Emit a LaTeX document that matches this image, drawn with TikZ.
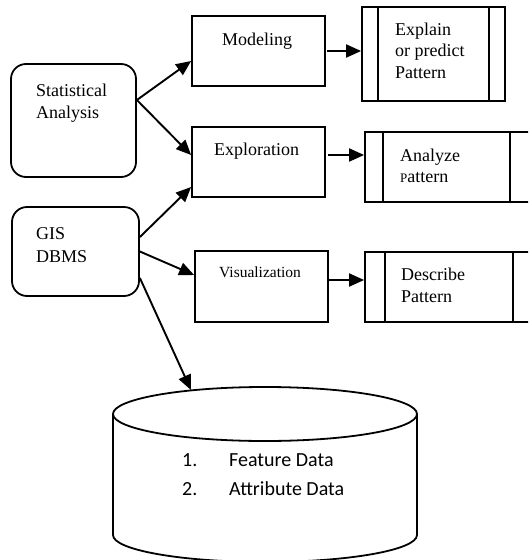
\documentclass[tikz,border=0pt]{standalone}
\usepackage{fontspec}
\setmainfont{Liberation Serif}
\newfontfamily\calib{Carlito}
\usetikzlibrary{arrows.meta,calc}
\begin{document}
\begin{tikzpicture}[x=1pt,y=-1pt,
  rbox/.style={draw, line width=1.8pt, rounded corners=15pt, inner sep=0pt},
  pbox/.style={draw, line width=1.8pt, inner sep=0pt},
  ln/.style={line width=1.8pt},
  arr/.style={line width=1.9pt, -{Triangle[length=15pt,width=13pt]}},
  txt/.style={anchor=base west, inner sep=0pt, align=left, font=\fontsize{18}{21.5}\selectfont},
  dtxt/.style={anchor=base west, inner sep=0pt, font=\calib\fontsize{20}{24}\selectfont}]
\useasboundingbox (0,0) rectangle (528,560);
\clip (0,0) rectangle (528,560);
% left rounded boxes
\node[rbox, minimum width=125pt, minimum height=113pt] (stat) at (73.5,120.5) {};
\node[txt] (statT) at (36,118) {Statistical\\Analysis};
\node[rbox, minimum width=127pt, minimum height=89pt] (gis) at (75.5,251.5) {};
\node[txt, font=\fontsize{18}{22.5}\selectfont] (gisT) at (36,262) {GIS\\DBMS};
% middle boxes
\node[pbox, minimum width=133pt, minimum height=70pt] (mod) at (258.5,51) {};
\node[txt] (modT) at (222,45) {Modeling};
\node[pbox, minimum width=133pt, minimum height=70pt] (exp) at (258.5,162) {};
\node[txt] (expT) at (214,155) {Exploration};
\node[pbox, minimum width=133pt, minimum height=71pt] (vis) at (261.5,286.5) {};
\node[txt, font=\fontsize{15.5}{18}\selectfont] (visT) at (219,277) {Visualization};
% right process boxes
\node[pbox, minimum width=143pt, minimum height=94pt] (expl) at (433.5,54) {};
\draw[ln] ([xshift=17pt]expl.north west) -- ([xshift=17pt]expl.south west);
\draw[ln] ([xshift=-17pt]expl.north east) -- ([xshift=-17pt]expl.south east);
\node[txt] (explT) at (395,78) {Explain\\or predict\\Pattern};
\node[pbox, minimum width=165pt, minimum height=70pt] (ana) at (447.5,167) {};
\draw[ln] ([xshift=19pt]ana.north west) -- ([xshift=19pt]ana.south west);
\draw[ln] ([xshift=-21pt]ana.north east) -- ([xshift=-21pt]ana.south east);
\node[txt, font=\fontsize{18}{20.5}\selectfont] (anaT) at (400,182) {Analyze\\{\fontsize{13}{13}\selectfont P}attern};
\node[pbox, minimum width=167pt, minimum height=70pt] (des) at (448.5,287) {};
\draw[ln] ([xshift=21pt]des.north west) -- ([xshift=21pt]des.south west);
\draw[ln] ([xshift=-20pt]des.north east) -- ([xshift=-20pt]des.south east);
\node[txt, font=\fontsize{18}{22}\selectfont] (desT) at (401,302) {Describe\\Pattern};
% database cylinder
\draw[ln] (113,414) -- (113,535) arc[start angle=180, end angle=360, x radius=152pt, y radius=27pt] -- (417,414);
\draw[ln, fill=white] (265,414) ellipse[x radius=152pt, y radius=27pt];
\coordinate (dbtop) at (191,390);
\node[dtxt] (d1) at (182,466) {1.};
\node[dtxt] (d1t) at (229,466) {Feature Data};
\node[dtxt] (d2) at (182,495) {2.};
\node[dtxt] (d2t) at (229,495) {Attribute Data};
% connectors
\draw[arr] ([yshift=20.5pt]stat.east) -- ([yshift=-10pt]mod.west);
\draw[arr] ([yshift=20.5pt]stat.east) -- ([yshift=7pt]exp.west);
\draw[arr] ([yshift=14.5pt]gis.east) -- ([yshift=-25pt]exp.west);
\draw[arr] (gis.east) -- ([yshift=11.5pt]vis.west);
\draw[arr] ([yshift=-26.5pt]gis.east) -- (dbtop);
\draw[arr] ([xshift=1pt]mod.east) -- (mod.east -| expl.west);
\draw[arr] ([xshift=2pt,yshift=7pt]exp.east) -- ([yshift=7pt]exp.east -| ana.west);
\draw[arr] ([yshift=6.5pt]vis.east) -- ([yshift=6.5pt]vis.east -| des.west);
\end{tikzpicture}
\end{document}
